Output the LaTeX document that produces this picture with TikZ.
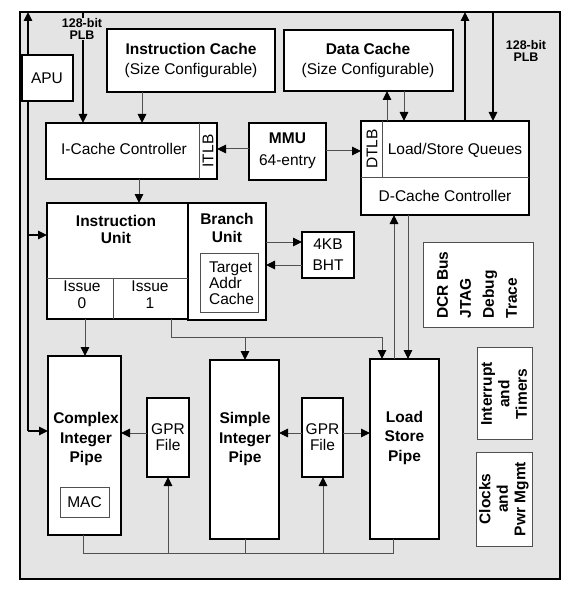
\documentclass[tikz,border=0pt]{standalone}
\usepackage{fontspec}
\setmainfont{Liberation Sans}
\usetikzlibrary{arrows.meta,fit,calc}
\definecolor{bg}{HTML}{E4E4E4}
\definecolor{ln}{HTML}{505050}
\newcommand\fs[1]{\fontsize{15.5}{#1}\selectfont}
\begin{document}
\begin{tikzpicture}[x=1pt,y=-1pt,
 box/.style={draw=black, line width=1.5pt, fill=white, inner sep=0pt, outer sep=0pt},
 tbox/.style={draw=ln, line width=1pt, fill=white, inner sep=0pt, outer sep=0pt},
 txt/.style={align=center, inner sep=0pt},
 arr/.style={-{Triangle[length=9pt,width=8.5pt,color=black]}},
 conn/.style={draw=ln, line width=1pt},
 bus/.style={draw=black, line width=1.5pt}]
\useasboundingbox (0,0) rectangle (579,596);
% outer
\node[box, fill=bg, fit={(20,12) (560,579)}] (outer) {};
% bus coordinates
\coordinate (ltop) at (28,12);
\coordinate (lmid) at (28,235);
\coordinate (lbot) at (28,431);
\coordinate (ptop) at (83,12);
\coordinate (rtopa) at (465,12);
\coordinate (rtopb) at (493,12);
\coordinate (iss1) at (171,337);
\coordinate (bbus) at (83,553);
% boxes
\node[box, fit={(22,55) (73,101)}] (apu) {};
\node[box, fit={(107,29) (275,92)}] (icache) {};
\node[box, fit={(284,30) (453,91)}] (dcache) {};
\node[box, fit={(46,123) (217,179)}] (icc) {};
\node[box, fit={(249,123) (326,180)}] (mmu) {};
\node[box, fit={(361,121) (529,215)}] (lsq) {};
\node[box, fit={(47,203) (188,319)}] (iu) {};
\node[box, fit={(188,203) (266,320)}] (bu) {};
\node[tbox, fit={(200,253) (258,312)}] (tac) {};
\node[box, fit={(302,232) (354,278)}] (bht) {};
\node[tbox, fit={(423,242) (533,327)}] (dcr) {};
\node[box, fit={(48,356) (121,535)}] (cip) {};
\node[tbox, fit={(60,487) (109,517)}] (mac) {};
\node[box, fit={(147,398) (189,477)}] (gpra) {};
\node[box, fit={(210,360) (279,539)}] (sip) {};
\node[box, fit={(302,398) (343,477)}] (gprb) {};
\node[box, fit={(370,359) (439,539)}] (lsp) {};
\node[tbox, fit={(477,347) (532,439)}] (intr) {};
\node[tbox, fit={(476,452) (532,546)}] (clk) {};
% left bus
\draw[bus] (apu.south -| lbot) -- (lbot);
\draw[bus,arr] (apu.north -| ltop) -- (ltop);
\draw[bus,arr] (lmid) -- (lmid -| iu.west);
\draw[bus,arr] (lbot) -- (lbot -| cip.west);
% PLB buses
\draw[bus,arr] (ptop) -- (ptop |- icc.north);
\draw[bus,arr] (lsq.north -| rtopa) -- (rtopa);
\draw[bus,arr] (rtopb) -- (rtopb |- lsq.north);
\node[txt, font=\fontsize{12.5}{12}\selectfont\bfseries, fill=bg] (plba) at (82,29) {128-bit\\PLB};
\node[txt, font=\fontsize{12.5}{12}\selectfont\bfseries] (plbb) at (526,51) {128-bit\\PLB};
% connectors
\draw[conn,arr] (icache.south -| 142,0) -- (icc.north -| 142,0);
\draw[conn,arr] (mmu.west |- 0,149) -- (icc.east |- 0,149);
\draw[conn,arr] (mmu.east |- 0,151) -- (lsq.west |- 0,151);
\draw[conn,arr] (lsq.north -| 387,0) -- (dcache.south -| 387,0);
\draw[conn,arr] (dcache.south -| 404,0) -- (lsq.north -| 404,0);
\draw[conn,arr] (icc.south -| 139,0) -- (iu.north -| 139,0);
\draw[conn,arr] (bu.east |- 0,242) -- (bht.west |- 0,242);
\draw[conn,arr] (bht.west |- 0,265) -- (bu.east |- 0,265);
\draw[conn,arr] (iu.south -| 85,0) -- (cip.north -| 85,0);
\draw[conn] (iu.south -| iss1) -- (iss1) -- (iss1 -| 382,0);
\draw[conn,arr] (iss1 -| 382,0) -- (lsp.north -| 382,0);
\draw[conn,arr] (iss1 -| 245,0) -- (sip.north -| 245,0);
\draw[conn,arr] (lsp.north -| 394,0) -- (lsq.south -| 394,0);
\draw[conn,arr] (lsq.south -| 408,0) -- (lsp.north -| 408,0);
\draw[conn,arr] (gpra.west |- 0,433) -- (cip.east |- 0,433);
\draw[conn,arr] (gprb.west |- 0,433) -- (sip.east |- 0,433);
\draw[conn,arr] (gprb.east |- 0,433) -- (lsp.west |- 0,433);
\draw[conn] (cip.south -| bbus) -- (bbus) -- (bbus -| 393,0) -- (lsp.south -| 393,0);
\draw[conn] (sip.south -| 245,0) -- (bbus -| 245,0);
\draw[conn,arr] (bbus -| 168,0) -- (gpra.south -| 168,0);
\draw[conn,arr] (bbus -| 323,0) -- (gprb.south -| 323,0);
% dividers
\draw[conn] (icc.north -| 199,0) -- (icc.south -| 199,0);
\draw[conn] (lsq.north -| 382,0) -- (382,177);
\draw[conn] (lsq.west |- 0,177) -- (lsq.east |- 0,177);
\draw[conn] (iu.west |- 0,278) -- (iu.east |- 0,278);
\draw[conn] (113,278) -- (iu.south -| 113,0);
% texts
\node[txt, font=\fs{17}] (tapu) at (47,78) {APU};
\node[txt, font=\fs{20}] (ticache) at (191,60) {\textbf{Instruction Cache}\\(Size Configurable)};
\node[txt, font=\fs{20}] (tdcache) at (368,60) {\textbf{Data Cache}\\(Size Configurable)};
\node[txt, font=\fs{17}] (ticc) at (124,149) {I-Cache Controller};
\node[txt, font=\fs{17}, rotate=90] (titlb) at (208,151) {ITLB};
\node[txt, font=\fs{22}] (tmmu) at (287.5,151) {\textbf{MMU}\\64-entry};
\node[txt, font=\fs{17}, rotate=90] (tdtlb) at (372,149) {DTLB};
\node[txt, font=\fs{17}] (tlsq) at (455,150) {Load/Store Queues};
\node[txt, font=\fs{17}] (tdcc) at (445,196) {D-Cache Controller};
\node[txt, font=\fs{17}\bfseries] (tiu) at (116,229.5) {Instruction\\Unit};
\node[txt, font=\fs{17}] (tis0) at (82,294.5) {Issue\\0};
\node[txt, font=\fs{17}] (tis1) at (150,294.5) {Issue\\1};
\node[txt, font=\fs{18}\bfseries] (tbu) at (227,228) {Branch\\Unit};
\node[txt, font=\fs{16}, align=left] (ttac) at (231.5,283) {Target\\Addr\\Cache};
\node[txt, font=\fs{21}] (tbht) at (328,255) {4KB\\BHT};
\node[txt, font=\fs{23}\bfseries, align=left, rotate=90] (tdcr) at (477,285) {DCR Bus\\JTAG\\Debug\\Trace};
\node[txt, font=\fs{17.5}\bfseries, rotate=90] (tintr) at (504,394) {Interrupt\\and\\Timers};
\node[txt, font=\fs{17.5}\bfseries, rotate=90] (tclk) at (504,499) {Clocks\\and\\Pwr Mgmt};
\node[txt, font=\fs{19.5}\bfseries] (tcip) at (86,439) {Complex\\Integer\\Pipe};
\node[txt, font=\fs{17}] (tmac) at (84.5,502) {MAC};
\node[txt, font=\fs{16}] (tgpra) at (168,437) {GPR\\File};
\node[txt, font=\fs{19.5}\bfseries] (tsip) at (245,439) {Simple\\Integer\\Pipe};
\node[txt, font=\fs{16}] (tgprb) at (322.5,437) {GPR\\File};
\node[txt, font=\fs{19.5}\bfseries] (tlsp) at (404.5,437.5) {Load\\Store\\Pipe};
\end{tikzpicture}
\end{document}
